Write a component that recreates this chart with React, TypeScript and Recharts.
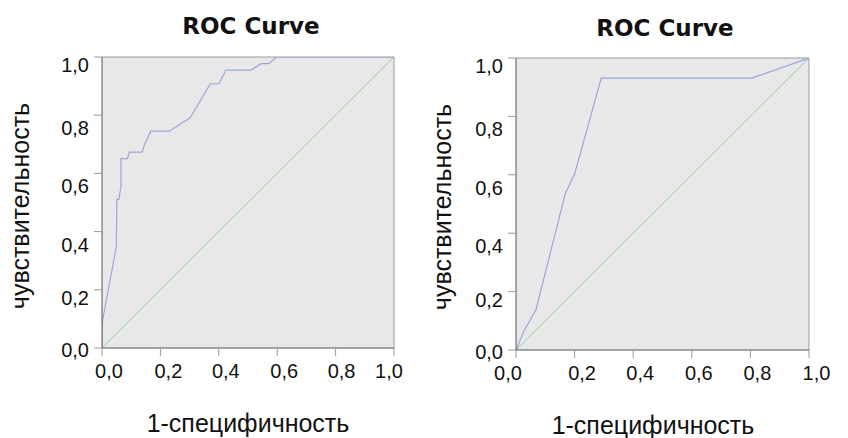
import React from "react";
import { LineChart, Line, XAxis, YAxis, CartesianGrid, ReferenceLine } from "recharts";

// ROC points, left panel (1-specificity, sensitivity)
const LEFT_FPR = [0, 0, 0.049, 0.051, 0.058, 0.065, 0.065, 0.087, 0.094, 0.138, 0.145, 0.167, 0.23, 0.301, 0.371, 0.401, 0.413, 0.424, 0.51, 0.546, 0.571, 0.598, 1];
const LEFT_TPR = [0, 0.084, 0.348, 0.511, 0.511, 0.555, 0.651, 0.651, 0.673, 0.673, 0.698, 0.745, 0.745, 0.79, 0.908, 0.908, 0.933, 0.955, 0.955, 0.977, 0.977, 1, 1];

// right panel
const RIGHT_FPR = [0, 0.03, 0.068, 0.168, 0.2, 0.291, 0.805, 1];
const RIGHT_TPR = [0, 0.071, 0.137, 0.535, 0.603, 0.931, 0.931, 1];

const DIAG_X = [0, 1];
const DIAG_Y = [0, 1];

const TICKS = [0, 0.2, 0.4, 0.6, 0.8, 1];

const TITLE = "ROC Curve";
const X_LABEL = "1-специфичность";
const Y_LABEL = "чувствительность";

const toPts = (xs: number[], ys: number[]) => xs.map((x, i) => ({ x, y: ys[i] }));
const fmt = (v: number) => v.toFixed(1).replace(".", ",");

const ARIAL = "Liberation Sans, Arial, sans-serif";
const BG = "#e8e8e8";
const CURVE = "#9ca5da";
const DIAG = "#93d393";

// small label nudges, the source render places tick text unevenly
const Y_NUDGE: Record<string, number> = { "0": 2, "0.2": 8, "0.4": 13, "0.6": 13, "0.8": 13, "1": 8 };

function YTick(props: any) {
  const { x, y, payload } = props;
  const v = payload.value;
  return (
    <text x={x} y={y + (Y_NUDGE[String(v)] ?? 0) + 7} textAnchor="end" style={{ fontFamily: ARIAL, fontSize: 20 }} fill="#111">
      {fmt(v)}
    </text>
  );
}

function makeXTick(nudge: number[]) {
  return function XTick(props: any) {
    const { x, y, payload, index } = props;
    return (
      <text x={x + (nudge[index] ?? 7)} y={y + 20} textAnchor="middle" style={{ fontFamily: ARIAL, fontSize: 20 }} fill="#111">
        {fmt(payload.value)}
      </text>
    );
  };
}

type PanelProps = {
  curve: { x: number; y: number }[];
  margin: { top: number; right: number; bottom: number; left: number };
  titleX: number;
  titleY: number;
  xLabelX: number;
  xLabelY: number;
  yLabelX: number;
  yLabelY: number;
  xNudge: number[];
};

function Panel(p: PanelProps) {
  const XTick = makeXTick(p.xNudge);
  return (
    <LineChart width={424} height={438} margin={p.margin}>
      <CartesianGrid horizontal={false} vertical={false} fill={BG} />
      <XAxis
        type="number"
        dataKey="x"
        domain={[0, 1]}
        ticks={TICKS}
        height={30}
        tickSize={8}
        tickMargin={2}
        stroke="#555"
        tickLine={{ stroke: "#999" }}
        tick={<XTick />}
        allowDataOverflow
      />
      <YAxis
        type="number"
        dataKey="y"
        domain={[0, 1]}
        ticks={TICKS}
        width={60}
        tickSize={8}
        tickMargin={5}
        stroke="#555"
        tickLine={{ stroke: "#999" }}
        tick={<YTick />}
        allowDataOverflow
      />
      <ReferenceLine y={1} stroke="#9a9a9a" />
      <ReferenceLine x={1} stroke="#9a9a9a" />
      <Line data={toPts(DIAG_X, DIAG_Y)} dataKey="y" stroke={DIAG} strokeWidth={1} dot={false} isAnimationActive={false} />
      <Line data={p.curve} dataKey="y" stroke={CURVE} strokeWidth={1.2} dot={false} isAnimationActive={false} />
      <text x={p.titleX} y={p.titleY} textAnchor="middle" style={{ fontFamily: "DejaVu Sans, Verdana, sans-serif", fontWeight: "bold", fontSize: 23 }} fill="#111">
        {TITLE}
      </text>
      <text x={p.xLabelX} y={p.xLabelY} textAnchor="middle" style={{ fontFamily: ARIAL, fontSize: 25 }} fill="#111">
        {X_LABEL}
      </text>
      <text
        x={p.yLabelX}
        y={p.yLabelY}
        textAnchor="middle"
        style={{ fontFamily: ARIAL, fontSize: 25 }}
        fill="#111"
        transform={`rotate(-90 ${p.yLabelX} ${p.yLabelY})`}
      >
        {Y_LABEL}
      </text>
    </LineChart>
  );
}

export default function App() {
  return (
    <div style={{ position: "absolute", left: 0, top: 0, width: 848, height: 438, background: "#fff", display: "flex" }}>
      <Panel
        curve={toPts(LEFT_FPR, LEFT_TPR)}
        margin={{ top: 57, right: 30, bottom: 60, left: 42 }}
        titleX={251}
        titleY={34}
        xLabelX={248}
        xLabelY={432}
        yLabelX={29}
        yLabelY={206}
        xNudge={[7, 8, 7, 7, 6, -5]}
      />
      <Panel
        curve={toPts(RIGHT_FPR, RIGHT_TPR)}
        margin={{ top: 58, right: 39, bottom: 58, left: 32 }}
        titleX={241}
        titleY={36}
        xLabelX={229}
        xLabelY={434}
        yLabelX={27}
        yLabelY={207}
        xNudge={[-8, 7.5, 7, 7, 7, 7.5]}
      />
    </div>
  );
}
